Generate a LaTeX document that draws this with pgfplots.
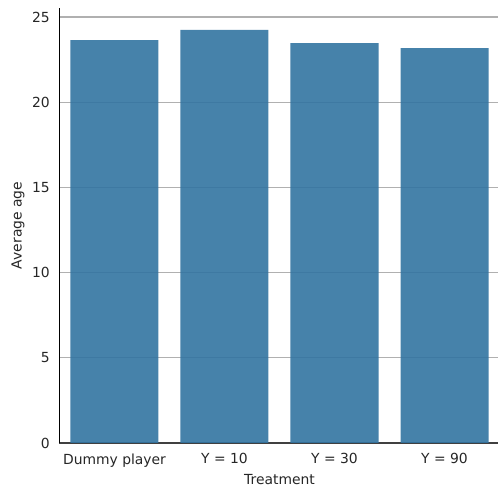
\documentclass[border=0pt]{standalone}
\usepackage{pgfplots}
\pgfplotsset{compat=1.18}
\usepackage{fontspec}
\setmainfont{DejaVu Sans}
\definecolor{barc}{HTML}{3274A1}
\definecolor{txt}{HTML}{262626}
\definecolor{gridc}{HTML}{B0B0B0}
\begin{document}
\begin{tikzpicture}[x=0.72pt,y=0.72pt]
\path[use as bounding box] (-59.5,-47) rectangle (438.5,443);
\begin{axis}[
  scale only axis,
  width=316.8pt, height=313.2pt,
  at={(0,0)}, anchor=south west,
  xmin=-0.5, xmax=3.5,
  ymin=0, ymax=25.53,
  xtick={0,1,2,3},
  xticklabels={Dummy player, Y = 10, Y = 30, Y = 90},
  ytick={0,5,10,15,20,25},
  axis x line*=bottom, axis y line*=left,
  x axis line style={color=black!75, line width=0.9pt, -},
  y axis line style={color=black, line width=0.7pt, -},
  major tick length=0pt,
  ymajorgrids,
  grid style={color=gridc, line width=1.0pt},
  xlabel={Treatment}, ylabel={Average age},
  label style={font=\fontsize{10}{12}\selectfont, text=txt},
  tick label style={font=\fontsize{10}{12}\selectfont, text=txt},
  /pgf/number format/assume math mode=true,
  xlabel style={at={(axis description cs:0.5,-0.084)}, anchor=center},
  ylabel style={at={(axis description cs:-0.0943,0.5)}, anchor=center},
  xticklabel style={yshift=-4pt},
  yticklabel style={xshift=-3.5pt},
  ybar, bar width=0.8, bar shift=0pt,
]
\addplot[fill=barc, fill opacity=0.9, draw=none] coordinates {
  (0,23.65) (1,24.24) (2,23.47) (3,23.18)
};
\end{axis}
\end{tikzpicture}
\end{document}
